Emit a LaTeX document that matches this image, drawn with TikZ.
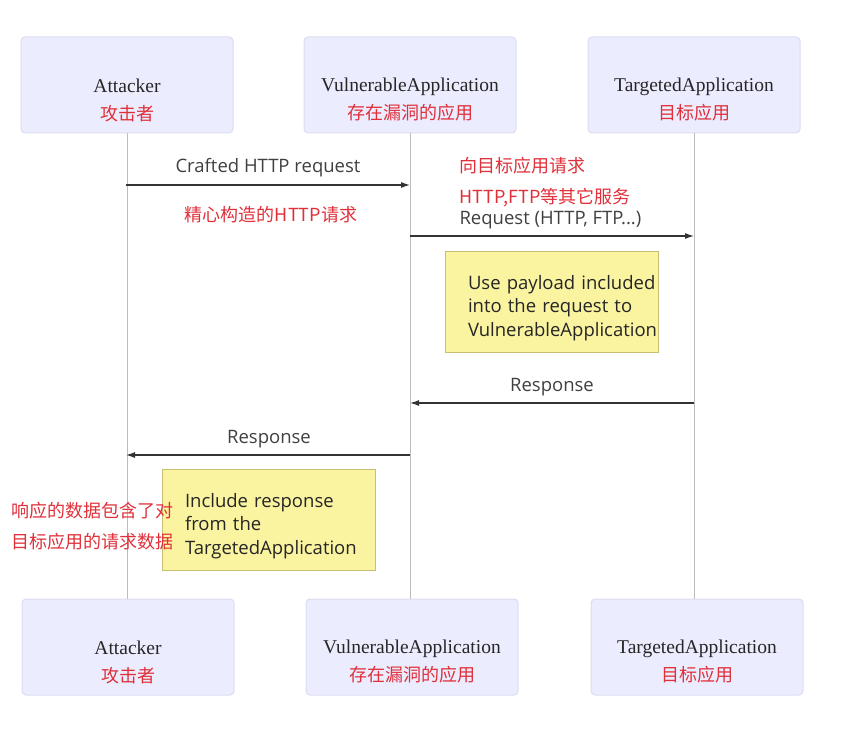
\documentclass[tikz,border=0pt]{standalone}
\usepackage{fontspec}
\setmainfont{Liberation Serif}
\setsansfont{Open Sans}
\newfontfamily\cjk{Noto Sans CJK SC}
\usetikzlibrary{arrows.meta}
\definecolor{actfill}{HTML}{ECECFF}
\definecolor{actdraw}{HTML}{DCDCF0}
\definecolor{notefill}{HTML}{FAF3A0}
\definecolor{notedraw}{HTML}{C8C070}
\definecolor{redtxt}{HTML}{E0303A}
\definecolor{msgtxt}{HTML}{404040}
\definecolor{lifeline}{HTML}{BDBDBD}
\begin{document}
\begin{tikzpicture}[x=1pt,y=-1pt,
  actor/.style={draw=actdraw,fill=actfill,rounded corners=4pt,line width=1pt,minimum width=212pt,minimum height=96pt},
  actortext/.style={align=center,font=\fontsize{19.5}{28}\selectfont,text=black!85},
  notebox/.style={draw=notedraw,fill=notefill,line width=0.8pt,minimum width=213pt,minimum height=101pt,inner xsep=23pt,text width=167pt,align=left,font=\sffamily\fontsize{18.5}{23.5}\selectfont,text=black!85},
  msg/.style={draw=black!80,line width=1.2pt,-{Latex[length=9pt,width=6pt]}},
  msglabel/.style={font=\sffamily\fontsize{18.5}{22}\selectfont,text=msgtxt},
  redlabel/.style={font=\cjk\fontsize{18}{22}\selectfont,text=redtxt},
  life/.style={draw=lifeline,line width=0.8pt}]
\useasboundingbox (0,0) rectangle (861,730);
\newcommand\redcjk[1]{\textcolor{redtxt}{\cjk\fontsize{18}{22}\selectfont #1}}
% actors top
\node[actor] (at) at (127,85) {};
\node[actor] (vt) at (410,85) {};
\node[actor] (tt) at (694,85) {};
\node[actortext] (atl) at ([yshift=-15pt]at.center) {Attacker\\\redcjk{攻击者}};
\node[actortext] (vtl) at ([yshift=-15pt]vt.center) {VulnerableApplication\\\redcjk{存在漏洞的应用}};
\node[actortext] (ttl) at ([yshift=-15pt]tt.center) {TargetedApplication\\\redcjk{目标应用}};
% actors bottom
\node[actor] (ab) at (128,647) {};
\node[actor] (vb) at (412,647) {};
\node[actor] (tb) at (697,647) {};
\node[actortext] (abl) at ([yshift=-15pt]ab.center) {Attacker\\\redcjk{攻击者}};
\node[actortext] (vbl) at ([yshift=-15pt]vb.center) {VulnerableApplication\\\redcjk{存在漏洞的应用}};
\node[actortext] (tbl) at ([yshift=-15pt]tb.center) {TargetedApplication\\\redcjk{目标应用}};
% lifelines
\draw[life] (at.south) -- (at.south |- ab.north);
\draw[life] (vt.south) -- (vt.south |- vb.north);
\draw[life] (tt.south) -- (tt.south |- tb.north);
% message anchors
\coordinate (m1s) at (126,185); \coordinate (m1e) at (410,185);
\coordinate (m2s) at (410,236); \coordinate (m2e) at (694,236);
\coordinate (m3s) at (694,403); \coordinate (m3e) at (410,403);
\coordinate (m4s) at (410,455); \coordinate (m4e) at (126,455);
\draw[msg] (m1s) -- (m1e);
\draw[msg] (m2s) -- (m2e);
\draw[msg] (m3s) -- (m3e);
\draw[msg] (m4s) -- (m4e);
\node[msglabel] (l1) at (268,168) {Crafted HTTP request};
\node[redlabel] (r1) at (271,215) {精心构造的HTTP请求};
\node[msglabel,anchor=west] (l2) at (456,220) {Request (HTTP, FTP...)};
\node[redlabel,anchor=west] (r2a) at (456,166) {向目标应用请求};
\node[redlabel,anchor=west] (r2b) at (456,198) {HTTP,FTP等其它服务};
\node[msglabel] (l3) at (552,387) {Response};
\node[msglabel] (l4) at (269,439) {Response};
% notes
\node[notebox] (n1) at (551.5,301.5) {\rule{0pt}{27pt}\mbox{Use payload included}\\\mbox{into the request to}\\\mbox{VulnerableApplication}};
\node[notebox] (n2) at (268.5,519.5) {\rule{0pt}{27pt}\mbox{Include response}\\\mbox{from the}\\\mbox{TargetedApplication}};
% red side text
\node[redlabel,anchor=west,align=left,font=\cjk\fontsize{18}{31}\selectfont] (r4) at (8,526) {响应的数据包含了对\\目标应用的请求数据};
\end{tikzpicture}
\end{document}
